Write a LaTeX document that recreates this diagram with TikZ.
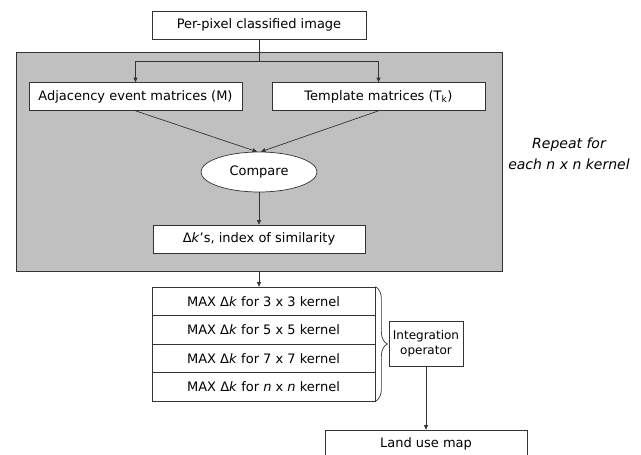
\documentclass[tikz,border=0pt]{standalone}
\usepackage{fontspec}
\setmainfont{DejaVu Sans}
\usetikzlibrary{shapes.geometric,decorations.pathreplacing,arrows.meta}
\definecolor{panelgray}{RGB}{192,192,192}
\begin{document}
\begin{tikzpicture}[x=1pt, y=-1pt, font=\fontsize{13}{15}\selectfont,
	box/.style={draw=black!80, fill=white, line width=0.7pt, inner sep=0pt, minimum height=28pt},
	wire/.style={draw=black!80, line width=0.7pt},
	link/.style={wire, -{Triangle[length=4.5pt,width=4pt]}}]
		\useasboundingbox (0,0) rectangle (641,455);
		\node[draw=black!80, line width=0.7pt, fill=panelgray, minimum width=486pt, minimum height=219pt, inner sep=0pt] (panel) at (259,161.5) {};
		\node[box, minimum width=214pt] (pixel) at (259,25) {Per-pixel classified image};
		\coordinate (split) at (259,61);
		\node[box, minimum width=213pt] (adj) at (135.5,96.5) {Adjacency event matrices (M)};
		\node[box, minimum width=213pt] (tmpl) at (378.5,96.5) {Template matrices (T\textsubscript{k})};
		\node[ellipse, draw=black!80, fill=white, line width=0.7pt, minimum width=116pt, minimum height=40pt, inner sep=0pt] (cmp) at (259,172) {Compare};
		\node[box, minimum width=212pt] (delta) at (259,239) {Δ\textit{k}’s, index of similarity};
		\foreach \n [count=\i from 0] in {3,5,7,\textit{n}}{
		  \node[box, minimum width=223pt, minimum height=28.5pt] (max\i) at (263.5,{301.25+28.5*\i}) {MAX Δ\textit{k} for \n{} x \n{} kernel};
		}
		\node[box, minimum width=74pt, minimum height=45pt, align=center, font=\fontsize{12}{15}\selectfont] (integ) at (426,343.5) {Integration\\operator};
		\node[box, minimum width=202pt] (land) at (426,444) {Land use map};
		\node[font=\fontsize{14}{21}\selectfont\itshape, align=center] (repeat) at (569,154) {Repeat for\\each n x n kernel};
		\draw[wire] (pixel) -- (split);
		\draw[link] (split) -| (adj);
		\draw[link] (split) -| (tmpl);
		\draw[link] (adj.south) -- ([xshift=-2pt]cmp.north);
		\draw[link] (tmpl.south) -- ([xshift=2pt]cmp.north);
		\draw[link] (cmp) -- (delta);
		\draw[link] (panel.south) -- (panel.south |- max0.north);
		\draw[wire, decorate, decoration={brace, amplitude=12pt}] (max0.north east) -- (max3.south east);
		\draw[link] (integ) -- (land);
	\end{tikzpicture}
\end{document}
